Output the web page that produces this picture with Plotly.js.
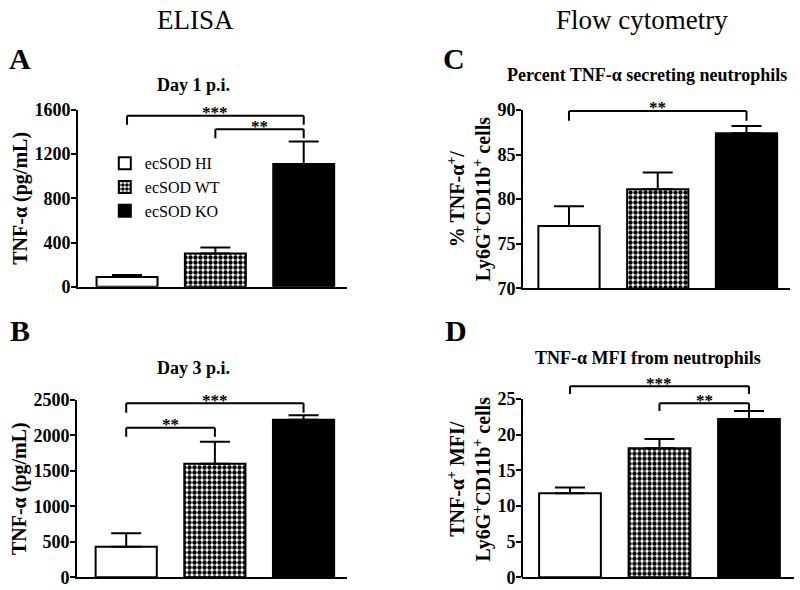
<!DOCTYPE html>
<html><head><meta charset="utf-8">
<script src="https://cdn.plot.ly/plotly-3.0.1.min.js"></script>
<style>body{margin:0;background:#fff}#chart{width:800px;height:590px}</style>
</head><body><div id="chart"></div>
<script>
// ---- data ----
const groups = ['ecSOD HI', 'ecSOD WT', 'ecSOD KO'];
const day1Mean = [88, 300, 1110];
const day1Err  = [18, 56, 205];
const day3Mean = [430, 1600, 2220];
const day3Err  = [190, 310, 65];
const pctMean  = [77.0, 81.1, 87.4];
const pctErr   = [2.2, 1.9, 0.8];
const mfiMean  = [11.8, 18.1, 22.2];
const mfiErr   = [0.8, 1.3, 1.1];
const yTicksA = [0, 400, 800, 1200, 1600];
const yTicksB = [0, 500, 1000, 1500, 2000, 2500];
const yTicksC = [70, 75, 80, 85, 90];
const yTicksD = [0, 5, 10, 15, 20, 25];
// significance brackets: [fromGroup, toGroup, bracket level, tick end level, label]
const sigA = [[0, 2, 1547, 1466, '***'], [1, 2, 1426, 1344, '**']];
const sigB = [[0, 2, 2453, 2320, '***'], [0, 1, 2109, 1983, '**']];
const sigC = [[0, 2, 89.9, 88.8, '**']];
const sigD = [[0, 2, 26.8, 25.7, '***'], [1, 2, 24.4, 23.3, '**']];

// ---- layout helpers ----
const W = 800, H = 590;
const SERIF = 'Liberation Serif, Times New Roman, serif';
function xd(l, r) { return [l / W, r / W]; }
function yd(b, t) { return [1 - b / H, 1 - t / H]; }
function px(x) { return x / W; }
function py(y) { return 1 - y / H; }

const fills = [
  {color: 'white'},
  {color: 'white', pattern: {shape: '.', fgcolor: 'black', bgcolor: 'white', size: 5, solidity: 0.6}},
  {color: 'black'}
];

const data = [];
function addPanel(means, errs, xa, ya, legend) {
  for (let g = 0; g < groups.length; g++) {
    const marker = Object.assign({line: {color: 'black', width: 2}}, fills[g]);
    data.push({
      type: 'bar', x: [groups[g]], y: [means[g]], width: [0.69],
      xaxis: xa, yaxis: ya, name: groups[g], legendgroup: groups[g],
      showlegend: legend, marker: marker, hoverinfo: 'skip',
      error_y: {type: 'data', array: [errs[g]], arrayminus: [0], symmetric: false,
                color: 'black', thickness: 2, width: 15}
    });
  }
}
addPanel(day1Mean, day1Err, 'x', 'y', true);
addPanel(day3Mean, day3Err, 'x2', 'y2', false);
addPanel(pctMean, pctErr, 'x3', 'y3', false);
addPanel(mfiMean, mfiErr, 'x4', 'y4', false);

const shapes = [];
const annotations = [];
function addSig(list, xr, yr) {
  list.forEach(function (s) {
    const a = s[0], b = s[1], top = s[2], bot = s[3];
    const ln = {color: 'black', width: 2};
    shapes.push({type: 'line', xref: xr, yref: yr, x0: a, x1: a, y0: bot, y1: top, line: ln});
    shapes.push({type: 'line', xref: xr, yref: yr, x0: a, x1: b, y0: top, y1: top, line: ln});
    shapes.push({type: 'line', xref: xr, yref: yr, x0: b, x1: b, y0: bot, y1: top, line: ln});
    annotations.push({xref: xr, yref: yr, x: (a + b) / 2, y: top, text: s[4], showarrow: false,
      xanchor: 'center', yanchor: 'middle', yshift: 3,
      font: {family: SERIF, size: 17, weight: 'bold', color: 'black'}});
  });
}
addSig(sigA, 'x', 'y');
addSig(sigB, 'x2', 'y2');
addSig(sigC, 'x3', 'y3');
addSig(sigD, 'x4', 'y4');
// y-axis line of panel D drawn only up to its top tick
shapes.push({type: 'line', xref: 'x4 domain', yref: 'y4', x0: 0, x1: 0,
  y0: yTicksD[0], y1: yTicksD[yTicksD.length - 1], line: {color: 'black', width: 2}});

function txt(x, y, text, size, bold) {
  annotations.push({xref: 'paper', yref: 'paper', x: px(x), y: py(y), text: text, showarrow: false,
    xanchor: 'center', yanchor: 'middle',
    font: {family: SERIF, size: size, weight: bold ? 'bold' : 'normal', color: 'black'}});
}
txt(195, 20, 'ELISA', 27, false);
txt(642, 20, 'Flow cytometry', 27, false);
txt(20, 58, 'A', 30, true);
txt(20, 330, 'B', 30, true);
txt(454, 58, 'C', 30, true);
txt(456, 330, 'D', 30, true);
txt(193, 85, 'Day 1 p.i.', 18, true);
txt(193, 368, 'Day 3 p.i.', 18, true);
txt(647, 75, 'Percent TNF-α secreting neutrophils', 18, true);
txt(648, 358, 'TNF-α MFI from neutrophils', 18, true);

function xaxis(dom, rng, anchor) {
  return {domain: dom, range: rng, anchor: anchor, type: 'category', categoryarray: groups,
    showline: true, linecolor: 'black', linewidth: 2, ticks: '', showticklabels: false,
    showgrid: false, zeroline: false, fixedrange: true};
}
function yaxis(dom, rng, anchor, ticks, title, showline) {
  return {domain: dom, range: rng, anchor: anchor, tickvals: ticks, ticktext: ticks.map(String),
    showline: showline, linecolor: 'black', linewidth: 2, ticks: 'outside', ticklen: 5,
    tickwidth: 2, tickcolor: 'black', showgrid: false, zeroline: false, fixedrange: true,
    ticklabelstandoff: -3,
    tickfont: {family: SERIF, size: 18, weight: 'bold', color: 'black'},
    title: {text: title, font: {family: SERIF, size: 20, weight: 'bold', color: 'black'}}};
}

const layout = {
  width: W, height: H, margin: {l: 0, r: 0, t: 0, b: 0},
  paper_bgcolor: 'white', plot_bgcolor: 'white', barmode: 'overlay',
  font: {family: SERIF, color: 'black'},
  showlegend: true,
  legend: {x: 0.131, y: 0.752, xanchor: 'left', yanchor: 'top', bgcolor: 'rgba(0,0,0,0)',
    font: {family: SERIF, size: 16, color: 'black'}, tracegroupgap: 0, itemclick: false},
  xaxis: xaxis(xd(78, 347), [-0.555, 2.49], 'y'),
  yaxis: yaxis(yd(286.7, 110), [0, 1600], 'x', yTicksA, 'TNF-α (pg/mL)', true),
  xaxis2: xaxis(xd(77, 347), [-0.555, 2.49], 'y2'),
  yaxis2: yaxis(yd(577.3, 400), [0, 2500], 'x2', yTicksB, 'TNF-α (pg/mL)', true),
  xaxis3: xaxis(xd(523, 790), [-0.518, 2.49], 'y3'),
  yaxis3: yaxis(yd(288.3, 110), [70, 90], 'x3', yTicksC,
    '% TNF-α<sup>+</sup>/<br>Ly6G<sup>+</sup>CD11b<sup>+</sup> cells', true),
  xaxis4: xaxis(xd(522, 794), [-0.536, 2.503], 'y4'),
  yaxis4: yaxis(yd(577.3, 577.3 - 178.3 * 27.5 / 25), [0, 27.5], 'x4', yTicksD,
    'TNF-α<sup>+</sup> MFI/<br>Ly6G<sup>+</sup>CD11b<sup>+</sup> cells', false),
  shapes: shapes, annotations: annotations
};

Plotly.newPlot('chart', data, layout, {staticPlot: true, displayModeBar: false});
</script>
</body></html>
